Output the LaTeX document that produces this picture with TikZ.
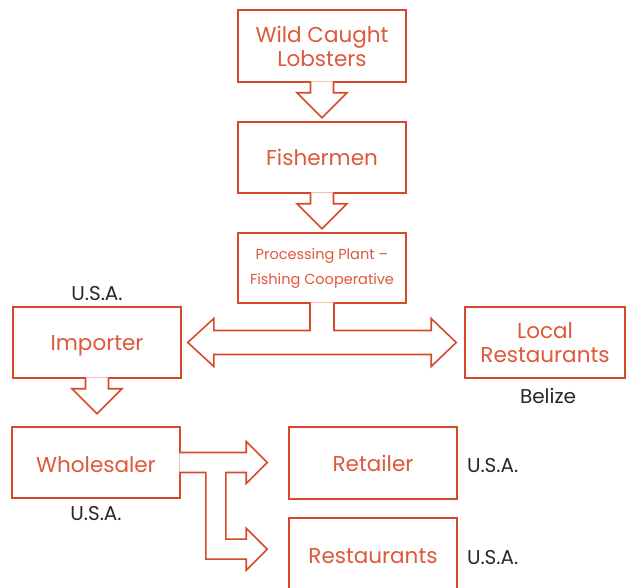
\documentclass[tikz,border=0pt]{standalone}
\usepackage{fontspec}
\setmainfont{Poppins}
\usetikzlibrary{calc}
\definecolor{org}{RGB}{214,74,44}
\definecolor{orgtxt}{RGB}{222,88,58}
\definecolor{dk}{RGB}{40,40,40}
\tikzset{
  box/.style={draw=org, line width=1.6pt, fill=white, minimum width=#1, minimum height=71pt, inner sep=0pt, text=orgtxt, align=center, font=\fontsize{21.5}{24}\selectfont},
  barrow/.style={draw=org, fill=white, line width=1.6pt, line join=miter},
  lbl/.style={text=dk, inner sep=0pt, font=\fontsize{20}{22}\selectfont}
}
\newcommand\dnarrow[1]{%
  \filldraw[barrow] let \p1=(#1.south) in
   (\x1-11.5,\y1+1.5) -- (\x1-11.5,\y1-10) -- (\x1-25,\y1-10) -- (\x1,\y1-35)
   -- (\x1+25,\y1-10) -- (\x1+11.5,\y1-10) -- (\x1+11.5,\y1+1.5);}
\newcommand\lowtxt[2]{\raisebox{-#1}[\height][\depth]{#2}}
\begin{document}
\begin{tikzpicture}[x=1pt,y=1pt]
\useasboundingbox (0,0) rectangle (626,588);
\clip (0,0) rectangle (626,588);
\node[box=168pt, minimum height=72pt] (lob) at (322,542) {Wild Caught\\Lobsters};
\node[box=168pt] (fish) at (322,430.5) {Fishermen};
\node[box=168pt, minimum height=70pt, font=\fontsize{14.5}{25}\selectfont] (proc) at (322,320) {Processing Plant –\\Fishing Cooperative};
\node[box=168pt] (imp) at (97,245.5) {\lowtxt{3.5pt}{Importer}};
\node[box=160pt] (local) at (545,245.5) {Local\\Restaurants};
\node[box=168pt] (whole) at (96,125.5) {\lowtxt{2pt}{Wholesaler}};
\node[box=168pt, minimum height=72pt] (ret) at (373,125) {Retailer};
\node[box=168pt, minimum height=72pt] (rest) at (373,34) {\lowtxt{2.5pt}{Restaurants}};

\dnarrow{lob}
\dnarrow{fish}
\dnarrow{imp}

% double arrow from processing plant
\filldraw[barrow] let \p1=(proc.south), \p2=(imp.east), \p3=(local.west) in
  (\x1-12,\y1+1.5) -- (\x1-12,\y2+12) -- (\x2+32,\y2+12) -- (\x2+32,\y2+24)
  -- (\x2+6,\y2) -- (\x2+32,\y2-24) -- (\x2+32,\y2-12) -- (\x3-33,\y2-12)
  -- (\x3-33,\y2-24) -- (\x3-8,\y2) -- (\x3-33,\y2+24) -- (\x3-33,\y2+12)
  -- (\x1+12,\y2+12) -- (\x1+12,\y1+1.5);

% forked arrow from wholesaler
\filldraw[barrow] let \p1=(whole.east), \p2=(ret.west), \p3=(rest.north) in
  (\x1-1.5,\y1+10) -- (\x2-42,\y1+10) -- (\x2-42,\y1+21) -- (\x2-21,\y1)
  -- (\x2-42,\y1-21) -- (\x2-42,\y1-10) -- (\x1+45,\y1-10)
  -- (\x1+45,\y3-22) -- (\x2-42,\y3-22) -- (\x2-42,\y3-11) -- (\x2-21,\y3-32)
  -- (\x2-42,\y3-53) -- (\x2-42,\y3-42) -- (\x1+25,\y3-42)
  -- (\x1+25,\y1-10) -- (\x1-1.5,\y1-10);

\node[lbl] (l1) at ($(imp.north)+(0,13)$) {U.S.A.};
\node[lbl] (l2) at ($(local.south)+(3,-17)$) {Belize};
\node[lbl] (l3) at ($(whole.south)+(0,-15)$) {U.S.A.};
\node[lbl, anchor=west] (l4) at ($(ret.east)+(9,-3)$) {U.S.A.};
\node[lbl, anchor=west] (l5) at ($(rest.east)+(9,-4)$) {U.S.A.};
\end{tikzpicture}
\end{document}
